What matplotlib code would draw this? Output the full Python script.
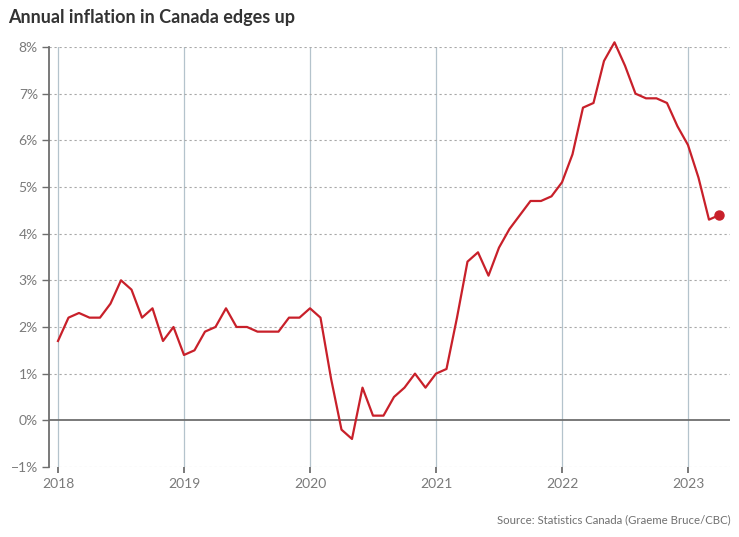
import numpy as np
import matplotlib.pyplot as plt

plt.rcParams['font.family'] = ['Lato', 'DejaVu Sans']

# monthly year-over-year CPI change, Jan 2018 .. Apr 2023
cpi_2018 = [1.7, 2.2, 2.3, 2.2, 2.2, 2.5, 3.0, 2.8, 2.2, 2.4, 1.7, 2.0]
cpi_2019 = [1.4, 1.5, 1.9, 2.0, 2.4, 2.0, 2.0, 1.9, 1.9, 1.9, 2.2, 2.2]
cpi_2020 = [2.4, 2.2, 0.9, -0.2, -0.4, 0.7, 0.1, 0.1, 0.5, 0.7, 1.0, 0.7]
cpi_2021 = [1.0, 1.1, 2.2, 3.4, 3.6, 3.1, 3.7, 4.1, 4.4, 4.7, 4.7, 4.8]
cpi_2022 = [5.1, 5.7, 6.7, 6.8, 7.7, 8.1, 7.6, 7.0, 6.9, 6.9, 6.8, 6.3]
cpi_2023 = [5.9, 5.2, 4.3, 4.4]
years = [2018, 2019, 2020, 2021, 2022, 2023]
y_ticks = [-1, 0, 1, 2, 3, 4, 5, 6, 7, 8]

vals = np.array(cpi_2018 + cpi_2019 + cpi_2020 + cpi_2021 + cpi_2022 + cpi_2023)
months = np.arange(len(vals))

red = '#c8202a'
fig = plt.figure(figsize=(7.39, 5.37), dpi=100)
ax = fig.add_axes([0.0663, 0.1304, 0.9215, 0.7821])

ax.plot(months, vals, color=red, lw=1.6, zorder=4, clip_on=False)
ax.plot(months[-1], vals[-1], 'o', color=red, ms=6.5, zorder=5, clip_on=False)

year_pos = [(y - 2018) * 12 for y in years]
for xp in year_pos:
    ax.axvline(xp, color='#b4c3cc', lw=0.9, zorder=1)
for yv in y_ticks:
    if yv != 0:
        ax.axhline(yv, color='#a8a8a8', lw=0.8, ls=(0, (2, 2.5)), zorder=1)
ax.axhline(0, color='#6e6e6e', lw=1.3, zorder=2)

ax.set_xlim(-0.857, 64)
ax.set_ylim(-1, 8)
ax.set_yticks(y_ticks)
ax.set_yticklabels([('\u22121%' if v < 0 else '%d%%' % v) for v in y_ticks])
ax.set_xticks(year_pos)
ax.set_xticklabels([str(y) for y in years])

for s in ['top', 'right', 'bottom']:
    ax.spines[s].set_visible(False)
ax.spines['left'].set_color('#6e6e6e')
ax.spines['left'].set_linewidth(1.3)
ax.tick_params(axis='y', length=5, width=1, color='#6e6e6e', labelcolor='#7a7a7a', labelsize=10, pad=3)
ax.tick_params(axis='x', length=4, width=1.3, color='#6e6e6e', labelcolor='#7a7a7a', labelsize=10, pad=4)

fig.text(8 / 739, 1 - 17 / 537, 'Annual inflation in Canada edges up', fontsize=13, fontweight='bold',
         color='#333333', va='center', ha='left')
fig.text(731 / 739, 1 - 520 / 537, 'Source: Statistics Canada (Graeme Bruce/CBC)', fontsize=8.2,
         color='#707070', va='center', ha='right')

fig.savefig('out.png', dpi=100)
